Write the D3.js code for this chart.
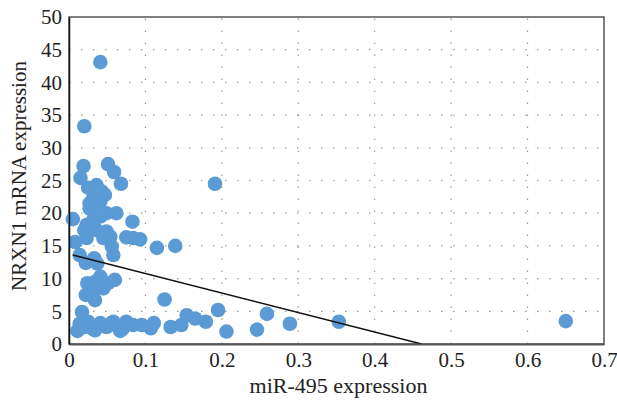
<!DOCTYPE html>
<html>
<head>
<meta charset="utf-8">
<script src="https://cdn.jsdelivr.net/npm/d3@7"></script>
<style>
	body { margin: 0; background: #fff; }
	text { font-family: "Liberation Serif", "DejaVu Serif", serif; fill: #222; }
</style>
</head>
<body>
<svg id="chart" width="617" height="400"></svg>
<script>
// miR-495 expression (x) vs NRXN1 mRNA expression (y)
var mirValues = [
	0.041, 0.020, 0.019, 0.051, 0.059, 0.015, 0.068, 0.191,
	0.025, 0.036, 0.043, 0.047, 0.032, 0.027, 0.036, 0.027, 0.041,
	0.005, 0.062, 0.083, 0.049, 0.041, 0.032, 0.023, 0.020, 0.036, 0.049,
	0.045, 0.054, 0.008, 0.023, 0.056, 0.075, 0.084, 0.093, 0.115, 0.139,
	0.014, 0.022, 0.037, 0.033, 0.058,
	0.041, 0.034, 0.024, 0.045, 0.060, 0.051, 0.022, 0.034, 0.031,
	0.125, 0.195, 0.259, 0.289, 0.246, 0.206, 0.353, 0.650,
	0.017, 0.011, 0.014, 0.025, 0.034, 0.041, 0.049, 0.058, 0.067, 0.075,
	0.084, 0.095, 0.107, 0.111, 0.133, 0.147, 0.154, 0.165, 0.179,
	0.020, 0.030, 0.053, 0.062, 0.070
];
var nrxnValues = [
	43.1, 33.3, 27.2, 27.5, 26.3, 25.4, 24.5, 24.5,
	23.9, 24.3, 23.3, 22.8, 22.5, 21.5, 21.5, 20.7, 21.8,
	19.1, 20.0, 18.7, 20.0, 19.5, 19.0, 18.2, 17.4, 17.4, 17.2,
	16.2, 16.4, 15.6, 16.2, 14.9, 16.3, 16.2, 16.0, 14.7, 15.0,
	13.6, 12.4, 12.3, 13.1, 13.6,
	10.3, 9.5, 9.3, 8.5, 9.8, 9.3, 7.5, 6.7, 7.8,
	6.8, 5.2, 4.6, 3.1, 2.2, 1.9, 3.4, 3.5,
	4.9, 2.0, 3.1, 3.4, 2.1, 3.2, 2.6, 3.4, 2.0, 3.4,
	2.9, 2.9, 2.4, 3.2, 2.6, 2.9, 4.4, 3.9, 3.4,
	2.6, 2.4, 3.0, 2.8, 2.3
];
var xTicks = [0, 0.1, 0.2, 0.3, 0.4, 0.5, 0.6, 0.7];
var yTicks = [0, 5, 10, 15, 20, 25, 30, 35, 40, 45, 50];
// linear trend line
var trendSlope = -29.8;
var trendIntercept = 13.75;
var trendRange = [0.005, 0.4614];

var svg = d3.select("#chart");
var margin = { top: 17, right: 13, bottom: 56, left: 69 };
var width = 617 - margin.left - margin.right;
var height = 400 - margin.top - margin.bottom;

var xScale = d3.scaleLinear().domain([0, 0.7]).range([0, width]);
var yScale = d3.scaleLinear().domain([0, 50]).range([height, 0]);

var g = svg.append("g").attr("transform", "translate(" + margin.left + "," + margin.top + ")");

// dotted grid
var grid = g.append("g");
grid.selectAll("line.h").data(yTicks.slice(1, -1)).enter().append("line")
	.attr("x1", 0).attr("x2", width)
	.attr("y1", function(d) { return yScale(d); })
	.attr("y2", function(d) { return yScale(d); })
	.attr("stroke", "#999").attr("stroke-width", 1.2)
	.attr("stroke-dasharray", "1.5,10.5");
grid.selectAll("line.v").data(xTicks.slice(1, -1)).enter().append("line")
	.attr("x1", function(d) { return xScale(d); })
	.attr("x2", function(d) { return xScale(d); })
	.attr("y1", height).attr("y2", 0)
	.attr("stroke", "#999").attr("stroke-width", 1.2)
	.attr("stroke-dasharray", "1.5,10.5");

// frame
g.append("rect").attr("x", 0).attr("y", 0).attr("width", width).attr("height", height)
	.attr("fill", "none").attr("stroke", "#555").attr("stroke-width", 1.5);

// points
g.append("g").selectAll("circle").data(mirValues).enter().append("circle")
	.attr("cx", function(d) { return xScale(d); })
	.attr("cy", function(d, i) { return yScale(nrxnValues[i]); })
	.attr("r", 7.3)
	.attr("fill", "#5b9bd5");

// trend line
var line = d3.line()
	.x(function(d) { return xScale(d); })
	.y(function(d) { return yScale(trendIntercept + trendSlope * d); });
g.append("path").attr("d", line(trendRange))
	.attr("fill", "none").attr("stroke", "#111").attr("stroke-width", 1.4);

// axes
var xAxis = d3.axisBottom(xScale).tickValues(xTicks).tickSize(0).tickPadding(8)
	.tickFormat(function(d) { return d === 0 ? "0" : d3.format(".1f")(d); });
var yAxis = d3.axisLeft(yScale).tickValues(yTicks).tickSize(0).tickPadding(7);

var gx = g.append("g").attr("transform", "translate(0," + height + ")").call(xAxis);
gx.select(".domain").attr("stroke", "#555").attr("stroke-width", 2);
gx.selectAll("text").style("font-size", "21px").attr("fill", "#222");

var gy = g.append("g").call(yAxis);
gy.select(".domain").attr("stroke", "#111").attr("stroke-width", 1.5);
gy.selectAll("text").style("font-size", "21px").attr("fill", "#222");

// axis titles
svg.append("text")
	.attr("x", margin.left + width / 2 + 2).attr("y", 393)
	.attr("text-anchor", "middle").style("font-size", "22px")
	.text("miR-495 expression");
svg.append("text")
	.attr("transform", "translate(26,176) rotate(-90)")
	.attr("text-anchor", "middle").style("font-size", "21px")
	.text("NRXN1 mRNA expression");
</script>
</body>
</html>
